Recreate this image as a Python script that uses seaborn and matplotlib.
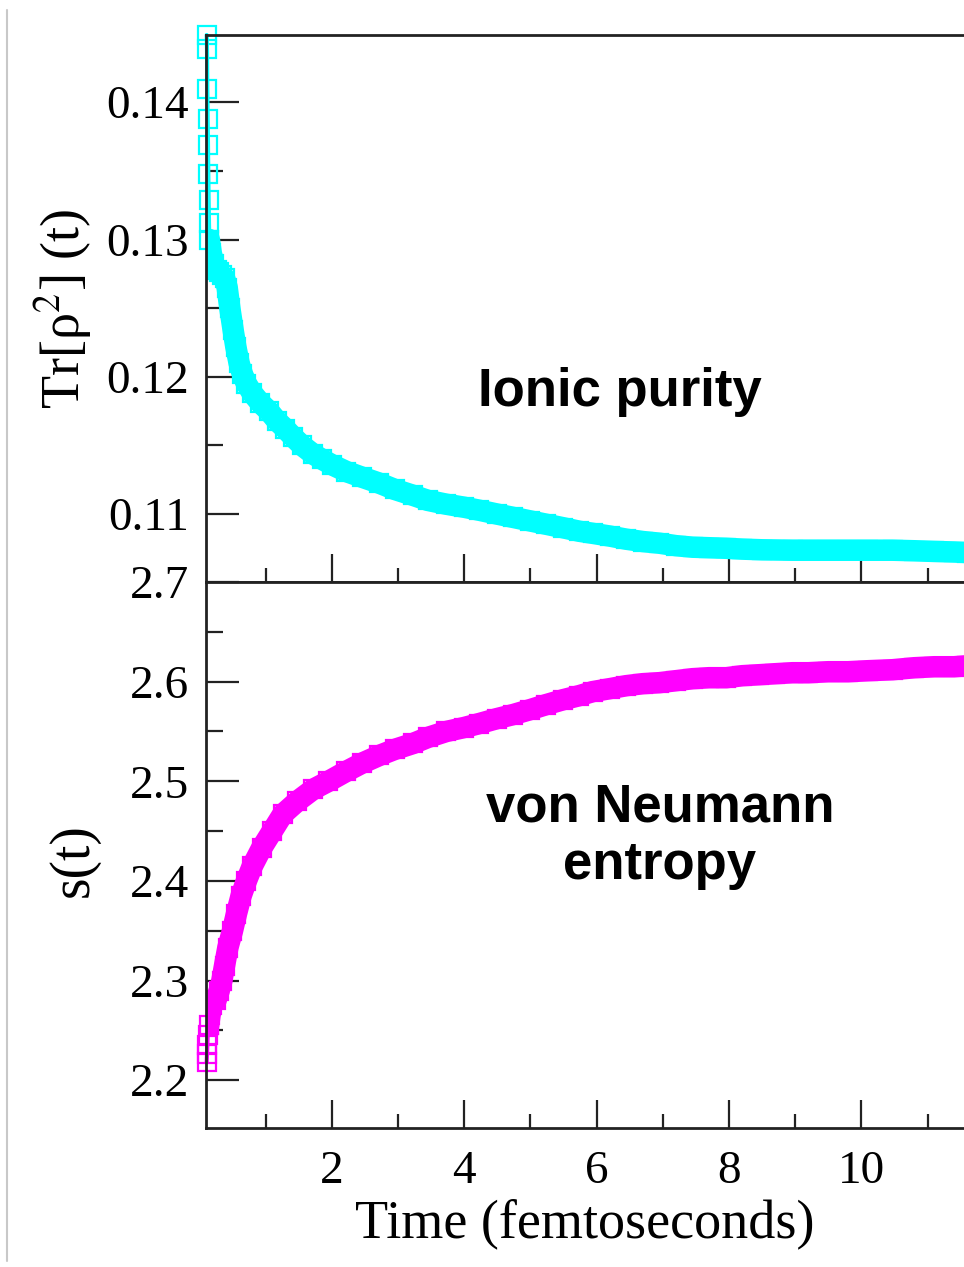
import numpy as np
import pandas as pd
import matplotlib
matplotlib.use("Agg")
import matplotlib.pyplot as plt
from matplotlib.lines import Line2D
from matplotlib.ticker import FixedLocator
import seaborn as sns

# ---------------- data ----------------
purity_time = [0.110, 0.115, 0.120, 0.125, 0.130, 0.135, 0.140, 0.145,
               0.15, 0.18, 0.22, 0.26, 0.30, 0.34, 0.38, 0.42, 0.46, 0.51,
               0.55, 0.60, 0.65, 0.71, 0.80, 0.92, 1.05, 1.17, 1.30, 1.42,
               1.55, 1.71, 1.85, 2.00, 2.22, 2.45, 2.72, 2.95, 3.22, 3.45,
               3.73, 4.00, 4.23, 4.50, 4.73, 5.00, 5.24, 5.50, 5.74, 5.94,
               6.20, 6.45, 6.70, 6.95, 7.20, 7.45, 7.70, 7.96, 8.20, 8.50,
               8.96, 9.20, 9.50, 9.80, 10.10, 10.47, 10.80, 11.10, 11.40, 11.60]
purity = [0.1449, 0.1439, 0.1410, 0.1388, 0.1369, 0.1348, 0.1329, 0.1312,
          0.1300, 0.1290, 0.1282, 0.1278, 0.1276, 0.1274, 0.1272, 0.1265, 0.1250, 0.1234,
          0.1222, 0.1210, 0.1202, 0.1195, 0.1188, 0.1181, 0.1175, 0.1168, 0.1162, 0.1156,
          0.1150, 0.1144, 0.1140, 0.1136, 0.1131, 0.1127, 0.11225, 0.1118, 0.11138, 0.1110,
          0.11072, 0.1105, 0.11028, 0.1100, 0.10977, 0.1095, 0.10926, 0.1090, 0.10875, 0.1086,
          0.1084, 0.10817, 0.1080, 0.10788, 0.1077, 0.10759, 0.10755, 0.10751, 0.10745, 0.1074,
          0.10737, 0.10737, 0.10737, 0.10737, 0.10737, 0.10737, 0.10733, 0.10728, 0.10724, 0.1072]
purity_sparse_count = 8

entropy_time = [0.110, 0.115, 0.120, 0.125,
                0.14, 0.16, 0.19, 0.25, 0.30, 0.34, 0.38, 0.43, 0.50, 0.56,
                0.63, 0.71, 0.80, 0.94, 1.10, 1.26, 1.48, 1.72, 1.95, 2.22,
                2.45, 2.72, 2.95, 3.23, 3.45, 3.73, 4.00, 4.23, 4.50, 4.74,
                5.00, 5.24, 5.50, 5.74, 5.94, 6.20, 6.45, 6.70, 6.95, 7.20,
                7.45, 7.70, 7.96, 8.20, 8.46, 8.70, 8.96, 9.20, 9.50, 9.80,
                10.10, 10.47, 10.80, 11.10, 11.40, 11.60]
entropy = [2.218, 2.226, 2.235, 2.245,
           2.255, 2.265, 2.275, 2.280, 2.290, 2.300, 2.315, 2.333, 2.350, 2.367,
           2.385, 2.400, 2.415, 2.433, 2.450, 2.467, 2.480, 2.492, 2.500, 2.510,
           2.518, 2.526, 2.532, 2.538, 2.544, 2.550, 2.554, 2.558, 2.563, 2.567,
           2.572, 2.577, 2.582, 2.586, 2.590, 2.593, 2.596, 2.598, 2.599, 2.601,
           2.603, 2.604, 2.604, 2.606, 2.607, 2.608, 2.609, 2.609, 2.610, 2.610,
           2.611, 2.612, 2.614, 2.615, 2.615, 2.616]
entropy_sparse_count = 4

x_major = [2, 4, 6, 8, 10]
x_minor = [1, 3, 5, 7, 9, 11]
top_major = [0.11, 0.12, 0.13, 0.14]
top_minor = [0.115, 0.125, 0.135]
bot_major = [2.2, 2.3, 2.4, 2.5, 2.6, 2.7]
bot_minor = [2.25, 2.35, 2.45, 2.55, 2.65]

CYAN = "#00FFFF"
MAGENTA = "#FF00FF"
SPINE = "#222222"

# ---------------- style ----------------
sns.set_style("ticks")
plt.rcParams["font.family"] = ["Liberation Serif", "DejaVu Serif"]
plt.rcParams["mathtext.fontset"] = "stix"
plt.rcParams["text.color"] = "black"
plt.rcParams["axes.labelcolor"] = "black"
plt.rcParams["xtick.labelcolor"] = "black"
plt.rcParams["ytick.labelcolor"] = "black"

fig = plt.figure(figsize=(9.64, 12.67), dpi=100)
left = 0.2137
width = 1.0 - left
ax1 = fig.add_axes([left, 0.5406, width, 0.9724 - 0.5406])
ax2 = fig.add_axes([left, 0.1097, width, 0.5406 - 0.1097])

def draw(ax, t, v, nsparse, color):
    df = pd.DataFrame({"t": t, "v": v})
    early = df.iloc[:nsparse + 1]
    rest = df.iloc[nsparse:]
    mk = dict(marker="s", markersize=13.5, markerfacecolor="none",
              markeredgecolor=color, markeredgewidth=1.6)
    sns.lineplot(data=early, x="t", y="v", ax=ax, color=color, linewidth=3,
                 estimator=None, sort=False, clip_on=False, zorder=1, **mk)
    sns.lineplot(data=rest, x="t", y="v", ax=ax, color=color, linewidth=15.5,
                 estimator=None, sort=False, zorder=1, **mk)

draw(ax1, purity_time, purity, purity_sparse_count, CYAN)
draw(ax2, entropy_time, entropy, entropy_sparse_count, MAGENTA)

for ax in (ax1, ax2):
    ax.set_xlim(0.1, 11.55)
    ax.xaxis.set_major_locator(FixedLocator(x_major))
    ax.xaxis.set_minor_locator(FixedLocator(x_minor))
    ax.tick_params(axis="both", which="major", direction="in", length=24,
                   width=1.6, color=SPINE, labelsize=34, pad=12)
    ax.tick_params(axis="both", which="minor", direction="in", length=12,
                   width=1.6, color=SPINE)
    ax.tick_params(axis="x", which="major", length=20)
    ax.tick_params(axis="x", which="minor", length=10)
    ax.tick_params(top=False, right=False, which="both")
    ax.spines["right"].set_visible(False)
    for s in ("left", "top", "bottom"):
        ax.spines[s].set_color(SPINE)
        ax.spines[s].set_linewidth(2.0)
    ax.set_xlabel("")

ax1.set_ylim(0.10505, 0.1449)
ax1.yaxis.set_major_locator(FixedLocator(top_major))
ax1.yaxis.set_minor_locator(FixedLocator(top_minor))
ax1.set_yticklabels([f"{v:.2f}" for v in top_major])
ax1.tick_params(axis="x", labelbottom=False)
ax1.set_ylabel("Tr[ρ$^{2}$] (t)", fontsize=39)
ax1.yaxis.set_label_coords(-0.147, 0.5)

ax2.set_ylim(2.152, 2.70)
ax2.yaxis.set_major_locator(FixedLocator(bot_major))
ax2.yaxis.set_minor_locator(FixedLocator(bot_minor))
ax2.set_yticklabels([f"{v:.1f}" for v in bot_major])
ax2.set_xticklabels([str(v) for v in x_major])
ax2.tick_params(axis="x", pad=16)
ax2.set_ylabel("s(t)", fontsize=40)
ax2.yaxis.set_label_coords(-0.14, 0.49)
ax2.set_xlabel("Time (femtoseconds)", fontsize=39, labelpad=4)

ax1.text(0.546, 0.347, "Ionic purity", transform=ax1.transAxes,
         ha="center", va="center", fontsize=38, fontweight="bold",
         family=["Liberation Sans", "DejaVu Sans"])
ax2.text(0.599, 0.535, "von Neumann\nentropy", transform=ax2.transAxes,
         ha="center", va="center", fontsize=38, fontweight="bold",
         linespacing=1.2, family=["Liberation Sans", "DejaVu Sans"])

fig.add_artist(Line2D([0.0075, 0.0075], [0.005, 0.992], transform=fig.transFigure,
                      color="#c8c8c8", linewidth=1.5))

fig.savefig("out.png", dpi=100)
